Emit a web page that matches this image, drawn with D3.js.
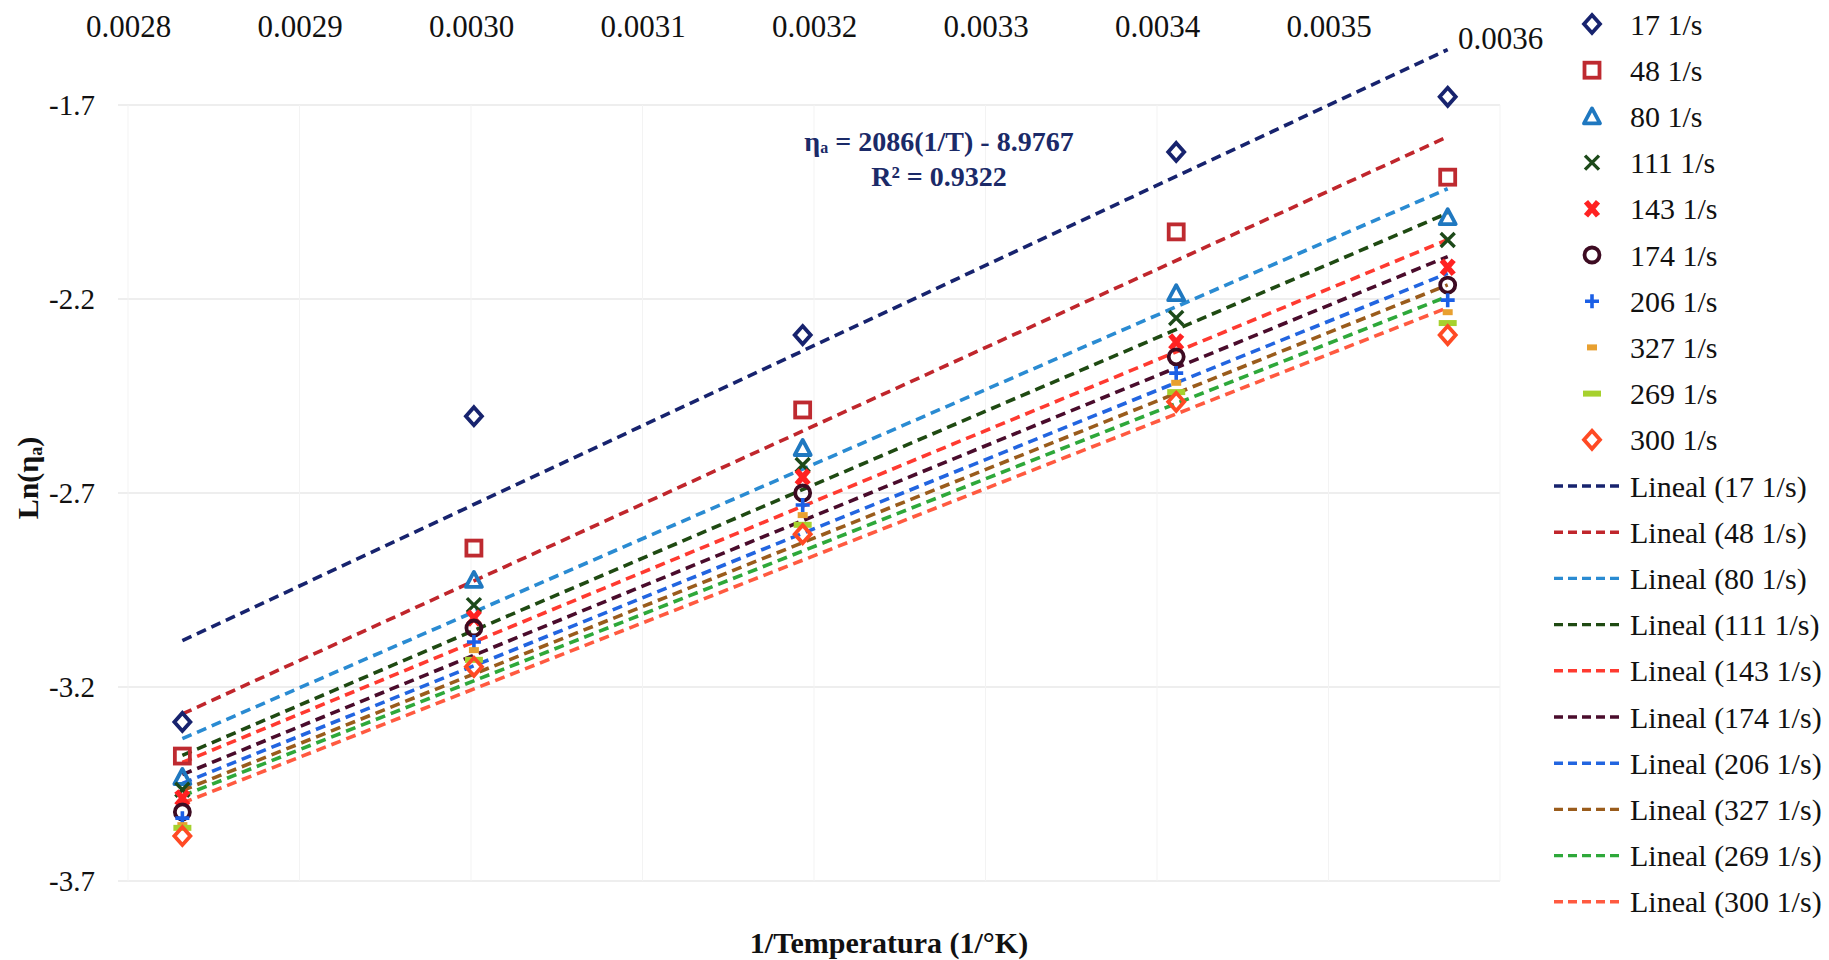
<!DOCTYPE html>
<html>
<head>
<meta charset="utf-8">
<script src="https://cdn.jsdelivr.net/npm/d3@7"></script>
<style>
  html, body { margin: 0; padding: 0; background: #fff; }
  svg { display: block; }
  svg text { font-family: "Liberation Serif", "Times New Roman", serif; }
</style>
</head>
<body>
<svg id="chart" width="1829" height="960"></svg>
<script>
// ---------- data ----------
const invTemperature = [0.0028317, 0.0030017, 0.0031934, 0.0034112, 0.0035695];
const seriesNames = ["17 1/s", "48 1/s", "80 1/s", "111 1/s", "143 1/s", "174 1/s", "206 1/s", "327 1/s", "269 1/s", "300 1/s"];
const s17  = [-3.290, -2.502, -2.293, -1.821, -1.679];
const s48  = [-3.378, -2.842, -2.486, -2.027, -1.886];
const s80  = [-3.432, -2.924, -2.584, -2.185, -1.989];
const s111 = [-3.465, -2.989, -2.628, -2.249, -2.048];
const s143 = [-3.486, -3.022, -2.659, -2.311, -2.118];
const s174 = [-3.522, -3.048, -2.700, -2.349, -2.164];
const s206 = [-3.538, -3.084, -2.731, -2.391, -2.203];
const s327 = [-3.556, -3.105, -2.757, -2.416, -2.234];
const s269 = [-3.563, -3.130, -2.782, -2.440, -2.262];
const s300 = [-3.584, -3.148, -2.806, -2.465, -2.293];
const seriesValues = [s17, s48, s80, s111, s143, s174, s206, s327, s269, s300];
const xTickValues = [0.0028, 0.0029, 0.0030, 0.0031, 0.0032, 0.0033, 0.0034, 0.0035, 0.0036];
const yTickValues = [-1.7, -2.2, -2.7, -3.2, -3.7];
const equationText = "2086(1/T) - 8.9767";
const r2Text = "R² = 0.9322";

// ---------- styles ----------
const markerColors = ["#17236e", "#be2a30", "#1f78c0", "#1d4a1a", "#ff2222", "#3d0b22", "#1b5fe6", "#e8a030", "#a6d12e", "#ff4a24"];
const lineColors   = ["#17236e", "#c0262c", "#2a8bd2", "#1f4a12", "#ff3a30", "#4a0c2c", "#2265e0", "#9a5c1c", "#2ea83a", "#ff5a40"];
const markerTypes  = ["diamond", "square", "triangle", "x", "xbold", "circle", "plus", "dashShort", "dashLong", "diamond"];

const svg = d3.select("#chart");
const plotLeft = 118, plotRight = 1500, plotTop = 105, plotBottom = 881;

const x = d3.scaleLinear().domain([0.0028, 0.0036]).range([128, 1500]);
const y = d3.scaleLinear().domain([-3.7, -1.7]).range([881, 105]);

// gridlines
const grid = svg.append("g");
grid.selectAll("line.h").data(yTickValues).enter().append("line")
  .attr("x1", plotLeft).attr("x2", plotRight)
  .attr("y1", d => y(d)).attr("y2", d => y(d))
  .attr("stroke", "#e8e8e8").attr("stroke-width", 1.5);
grid.selectAll("line.v").data(xTickValues).enter().append("line")
  .attr("x1", d => x(d)).attr("x2", d => x(d))
  .attr("y1", plotTop).attr("y2", plotBottom)
  .attr("stroke", "#f3f3f3").attr("stroke-width", 1);

const hyphenFmt = f => d => f(d).replace("\u2212", "-");

// x axis (labels on top)
const xAxis = d3.axisTop(x).tickValues(xTickValues).tickFormat(hyphenFmt(d3.format(".4f"))).tickSize(0).tickPadding(0);
const gx = svg.append("g").attr("transform", "translate(0,37)").call(xAxis);
gx.attr("font-family", null);
gx.select(".domain").remove();
gx.selectAll("text").attr("font-size", 31).attr("fill", "#111");
gx.selectAll(".tick").filter(d => d === 0.0036).select("text").attr("dy", "0.4em");

// y axis
const yAxis = d3.axisLeft(y).tickValues(yTickValues).tickFormat(hyphenFmt(d3.format(".1f"))).tickSize(0).tickPadding(0);
const gy = svg.append("g").attr("transform", "translate(95,0)").call(yAxis);
gy.attr("font-family", null);
gy.select(".domain").remove();
gy.selectAll("text").attr("font-size", 29).attr("fill", "#111");

// axis titles
svg.append("text").attr("x", 889).attr("y", 953).attr("text-anchor", "middle")
  .attr("font-size", 30).attr("font-weight", "bold").attr("fill", "#111")
  .text("1/Temperatura (1/°K)");
const yt = svg.append("text").attr("transform", "translate(38,478) rotate(-90)")
  .attr("text-anchor", "middle").attr("font-size", 30).attr("font-weight", "bold").attr("fill", "#111");
yt.append("tspan").text("Ln(η");
yt.append("tspan").attr("font-size", 18).attr("baseline-shift", "-20%").text("a");
yt.append("tspan").text(")");

// regression
function linReg(xs, ys) {
  const mx = d3.mean(xs), my = d3.mean(ys);
  let sxy = 0, sxx = 0;
  xs.forEach((xv, i) => { sxy += (xv - mx) * (ys[i] - my); sxx += (xv - mx) * (xv - mx); });
  const m = sxy / sxx;
  return { m, b: my - m * mx };
}

const xMin = d3.min(invTemperature), xMax = d3.max(invTemperature);
const trend = svg.append("g");
seriesValues.forEach((vals, i) => {
  const r = linReg(invTemperature, vals);
  trend.append("line")
    .attr("x1", x(xMin)).attr("y1", y(r.m * xMin + r.b))
    .attr("x2", x(xMax)).attr("y2", y(r.m * xMax + r.b))
    .attr("stroke", lineColors[i]).attr("stroke-width", 3.6)
    .attr("stroke-dasharray", "10,6");
});

// markers
function drawMarker(g, type, color, cx, cy) {
  const s = 8;
  switch (type) {
    case "diamond":
      g.append("path").attr("d", `M${cx},${cy - s - 1}L${cx + s},${cy}L${cx},${cy + s + 1}L${cx - s},${cy}Z`)
        .attr("fill", "none").attr("stroke", color).attr("stroke-width", 3.8); break;
    case "square":
      g.append("rect").attr("x", cx - s + 0.5).attr("y", cy - s + 0.5).attr("width", 2 * s - 1).attr("height", 2 * s - 1)
        .attr("fill", "none").attr("stroke", color).attr("stroke-width", 3.8); break;
    case "triangle":
      g.append("path").attr("d", `M${cx},${cy - s}L${cx + s},${cy + s - 1}L${cx - s},${cy + s - 1}Z`)
        .attr("fill", "none").attr("stroke", color).attr("stroke-width", 3.8).attr("stroke-linejoin", "round"); break;
    case "x":
      g.append("path").attr("d", `M${cx - 7},${cy - 7}L${cx + 7},${cy + 7}M${cx + 7},${cy - 7}L${cx - 7},${cy + 7}`)
        .attr("stroke", color).attr("stroke-width", 3.4); break;
    case "xbold":
      g.append("path").attr("d", `M${cx - 6},${cy - 7}L${cx + 6},${cy + 7}M${cx + 6},${cy - 7}L${cx - 6},${cy + 7}`)
        .attr("stroke", color).attr("stroke-width", 5.5); break;
    case "circle":
      g.append("circle").attr("cx", cx).attr("cy", cy).attr("r", 7.5)
        .attr("fill", "none").attr("stroke", color).attr("stroke-width", 3.8); break;
    case "plus":
      g.append("path").attr("d", `M${cx - 7},${cy}L${cx + 7},${cy}M${cx},${cy - 7}L${cx},${cy + 7}`)
        .attr("stroke", color).attr("stroke-width", 3.6); break;
    case "dashShort":
      g.append("line").attr("x1", cx - 5).attr("x2", cx + 5).attr("y1", cy).attr("y2", cy)
        .attr("stroke", color).attr("stroke-width", 6); break;
    case "dashLong":
      g.append("line").attr("x1", cx - 9).attr("x2", cx + 9).attr("y1", cy).attr("y2", cy)
        .attr("stroke", color).attr("stroke-width", 6); break;
  }
}

const marks = svg.append("g");
seriesValues.forEach((vals, i) => {
  vals.forEach((v, j) => drawMarker(marks, markerTypes[i], markerColors[i], x(invTemperature[j]), y(v)));
});

// equation label
const eq = svg.append("text").attr("x", 939).attr("y", 151).attr("text-anchor", "middle")
  .attr("font-size", 28).attr("font-weight", "bold").attr("fill", "#1b2a68");
eq.append("tspan").text("η");
eq.append("tspan").attr("font-size", 16).attr("baseline-shift", "-15%").text("a");
eq.append("tspan").text(" = " + equationText);
svg.append("text").attr("x", 939).attr("y", 186).attr("text-anchor", "middle")
  .attr("font-size", 28).attr("font-weight", "bold").attr("fill", "#1b2a68").text(r2Text);

// legend
const leg = svg.append("g");
const legX = 1592, legTextX = 1630, legY0 = 24, legStep = 46.2;
seriesNames.forEach((name, i) => {
  const cy = legY0 + i * legStep;
  drawMarker(leg, markerTypes[i], markerColors[i], legX, cy);
  leg.append("text").attr("x", legTextX).attr("y", cy).attr("dy", "0.35em")
    .attr("font-size", 30).attr("fill", "#111").text(name);
});
seriesNames.forEach((name, i) => {
  const cy = legY0 + (i + 10) * legStep;
  leg.append("line").attr("x1", 1554).attr("x2", 1624).attr("y1", cy).attr("y2", cy)
    .attr("stroke", lineColors[i]).attr("stroke-width", 3.4).attr("stroke-dasharray", "9,5");
  leg.append("text").attr("x", legTextX).attr("y", cy).attr("dy", "0.35em")
    .attr("font-size", 30).attr("fill", "#111").text("Lineal (" + name + ")");
});
</script>
</body>
</html>
